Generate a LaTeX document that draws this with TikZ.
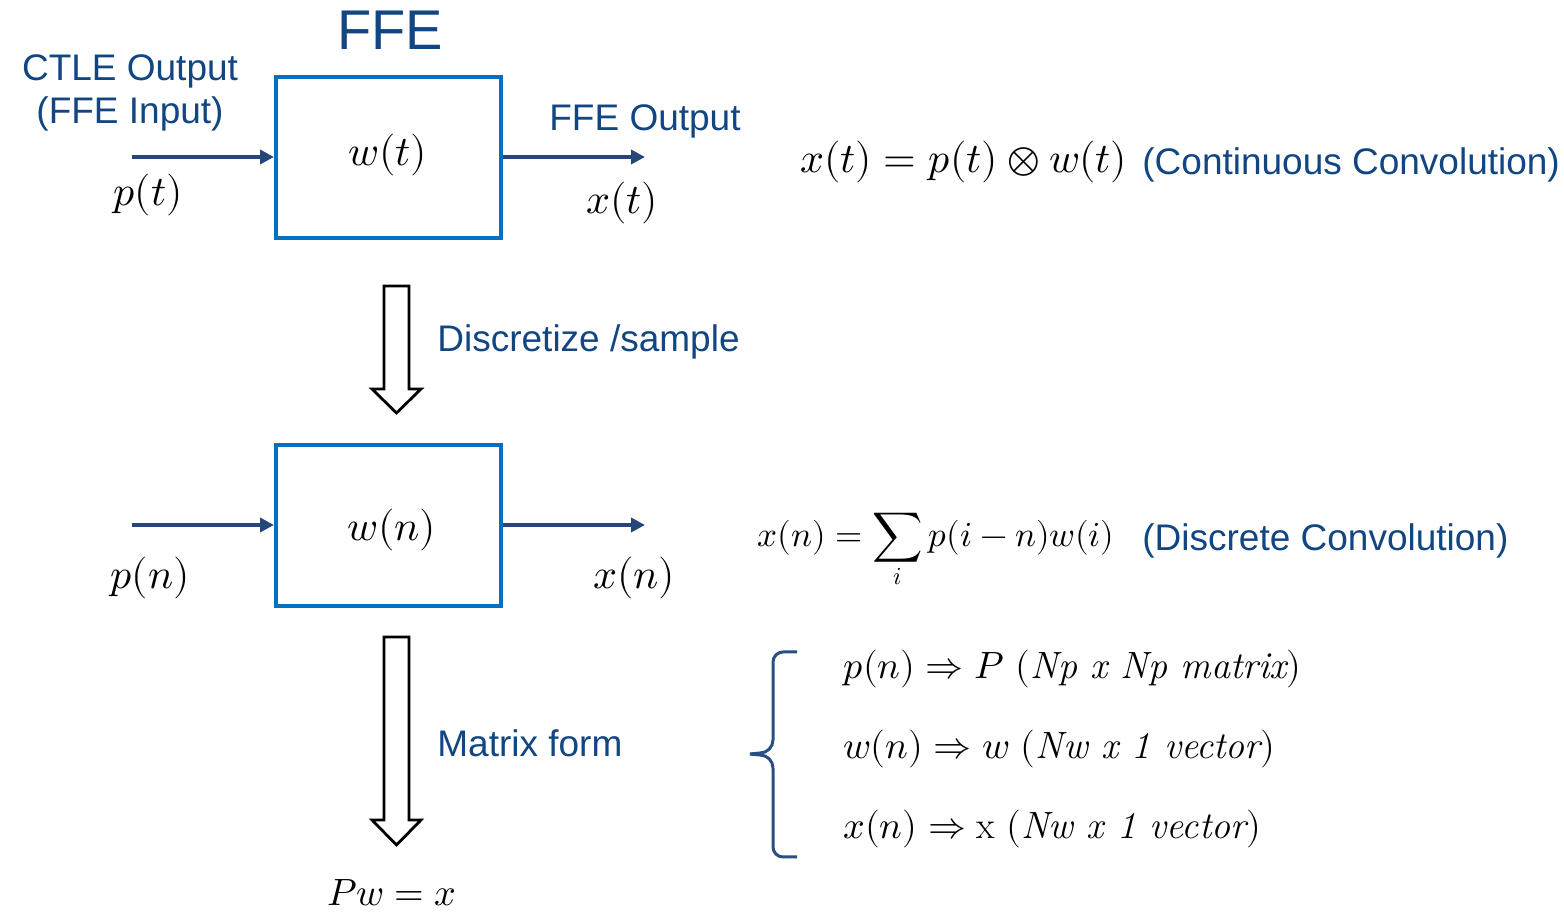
\documentclass[tikz,border=0pt]{standalone}
\usepackage{fontspec}
\usepackage{unicode-math}
\setmathfont{Latin Modern Math}
\setsansfont{Liberation Sans}
\usetikzlibrary{arrows.meta}
\definecolor{txtblue}{RGB}{18,70,130}
\definecolor{boxblue}{RGB}{0,112,192}
\definecolor{navy}{RGB}{38,70,120}
\definecolor{bracec}{RGB}{40,80,130}
\begin{document}
\begin{tikzpicture}[x=0.5pt,y=-0.5pt,
  lbl/.style={font=\sffamily\fontsize{18.5}{21.5}\selectfont,text=txtblue,inner sep=0pt,align=center},
  mth/.style={font=\fontsize{21}{24}\selectfont,inner sep=0pt},
  rowm/.style={font=\fontsize{19}{22}\selectfont,inner sep=0pt,anchor=west},
  ffebox/.style={draw=boxblue,line width=2pt,minimum width=112.5pt,minimum height=80.5pt,inner sep=0pt},
  sig/.style={draw=navy,line width=2pt,-{Triangle[length=7pt,width=7pt]}},
  hollow/.style={draw=black,line width=1.4pt,fill=white,line join=miter},
  bracestyle/.style={draw=bracec,line width=1.5pt}]
\useasboundingbox (0,0) rectangle (1564,913);

% title
\node[lbl,font=\sffamily\fontsize{28}{32}\selectfont] (title) at (390,30) {FFE};

% top row
\node[ffebox] (b1) at (388.5,157.5) {};
\node[mth] (w1) at (388,155) {$w(t)$};
\coordinate (in1) at (132,157);
\coordinate (out1) at (645,157);
\draw[sig] (in1) -- (b1.west |- in1);
\draw[sig] (b1.east |- out1) -- (out1);
\node[lbl] (ctle) at (130,93) {CTLE Output\\(FFE Input)};
\node[lbl] (ffeout) at (645,121) {FFE Output};
\node[mth] (pt) at (148,195) {$p(t)$};
\node[mth] (xt) at (622,203) {$x(t)$};
\node[mth,anchor=west] (eq1) at (800,162) {$x(t)=p(t)\otimes w(t)$};
\node[lbl,anchor=west] (cc) at (1142,165) {(Continuous Convolution)};

% discretize arrow
\draw[hollow] (384,286) -- (409,286) -- (409,389) -- (421,389) -- (396.5,413) -- (372,389) -- (384,389) -- cycle;
\node[lbl,anchor=west] (disc) at (437,342) {Discretize /sample};

% second row
\node[ffebox] (b2) at (388.5,525.5) {};
\node[mth] (w2) at (392,530) {$w(n)$};
\coordinate (in2) at (132,525);
\coordinate (out2) at (645,525);
\draw[sig] (in2) -- (b2.west |- in2);
\draw[sig] (b2.east |- out2) -- (out2);
\node[mth] (pn) at (150,578) {$p(n)$};
\node[mth] (xn) at (634,578) {$x(n)$};
\node[mth,anchor=west,font=\fontsize{17.5}{20}\selectfont] (eq2) at (757,551) {$\displaystyle x(n)=\sum_{i}p(i-n)w(i)$};
\node[lbl,anchor=west] (dc) at (1142,541) {(Discrete Convolution)};

% matrix arrow
\draw[hollow] (384,637) -- (409,637) -- (409,820) -- (421,820) -- (396.5,845) -- (372,820) -- (384,820) -- cycle;
\node[lbl,anchor=west] (mf) at (437,743) {Matrix form};
\node[mth,font=\fontsize{19}{22}\selectfont] (pw) at (392,893) {$Pw=x$};

% brace
\coordinate (btop) at (797,652);
\coordinate (btip) at (750,754);
\coordinate (bbot) at (797,857);
\draw[bracestyle,rounded corners=5pt] (btop) -- (773,652) -- (773,740);
\draw[bracestyle] (773,740) to[out=-90,in=0] (760,753) -- (btip);
\draw[bracestyle,rounded corners=5pt] (bbot) -- (773,857) -- (773,768);
\draw[bracestyle] (773,768) to[out=90,in=0] (760,755) -- (btip);

\node[rowm] (r1) at (843,669) {$p(n)\Rightarrow P\ (\textit{Np x Np matrix})$};
\node[rowm] (r2) at (843,749) {$w(n)\Rightarrow w\ (\textit{Nw x 1 vector})$};
\node[rowm] (r3) at (843,829) {$x(n)\Rightarrow \mathrm{x}\ (\textit{Nw x 1 vector})$};
\end{tikzpicture}
\end{document}
